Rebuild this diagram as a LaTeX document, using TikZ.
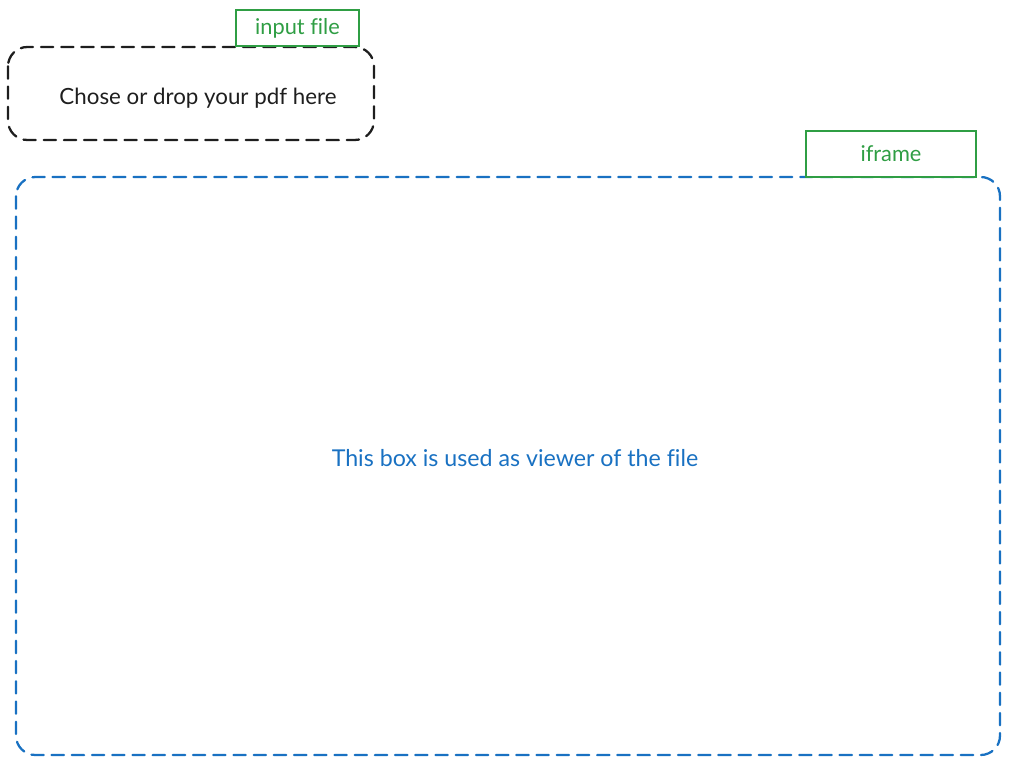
\documentclass[tikz,border=0pt]{standalone}
\usepackage{fontspec}
\setmainfont{Lato}[Ligatures = NoCommon]
\usepackage{tikz}

\definecolor{sketchblue}{HTML}{1971C2}
\definecolor{sketchgreen}{HTML}{2F9E44}
\definecolor{sketchblack}{HTML}{1E1E1E}

\begin{document}
\begin{tikzpicture}[x = 0.02cm, y = -0.02cm,
  dashbox/.style = {draw, line width = 1.3pt, dash pattern = on 7pt off 4.5pt, rounded corners = 11pt, line cap = round},
  tagbox/.style = {draw = sketchgreen, line width = 1.2pt, text = sketchgreen, font = \fontsize{12.4}{14}\selectfont}]

\useasboundingbox (0, 0) rectangle (1009, 765);

% Upload area
  \draw[dashbox, sketchblack] (8, 47) rectangle (374, 140);
  \node[text = sketchblack, font = \fontsize{12.7}{15}\selectfont] (upload) at (198, 98) {Chose or drop your pdf here};
  \node[tagbox, minimum width = 123 * 0.02cm, minimum height = 36 * 0.02cm, fill = white] (inputtag) at (297.5, 28) {input file};

% Viewer area
  \draw[dashbox, sketchblue] (16, 177) rectangle (1000, 755);
  \node[text = sketchblue, font = \fontsize{13.2}{15}\selectfont] (viewer) at (515, 458) {This box is used as viewer of the file};
  \node[tagbox, minimum width = 170 * 0.02cm, minimum height = 46 * 0.02cm, fill = white] (iframetag) at (891, 154) {iframe};

\end{tikzpicture}
\end{document}
